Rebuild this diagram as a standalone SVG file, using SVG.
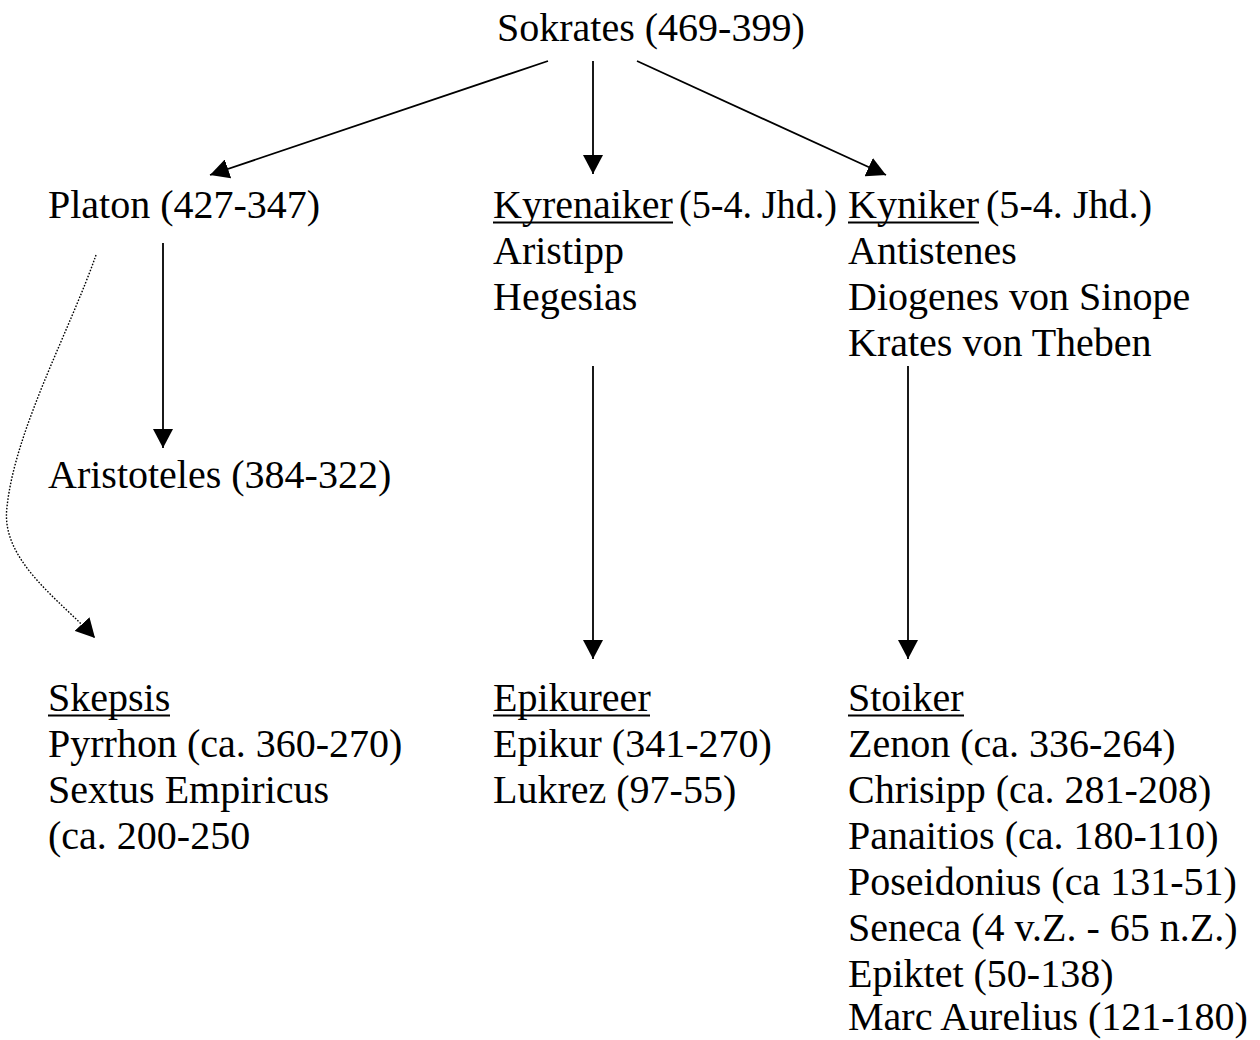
<svg xmlns="http://www.w3.org/2000/svg" width="1260" height="1040" viewBox="0 0 1260 1040">
<style>
text{font-family:"Liberation Serif","Times New Roman",serif;font-size:40px;fill:#000}
.ul{stroke:#000;stroke-width:2}
.c{fill:none;stroke:#000;stroke-width:1.8}
.d{fill:none;stroke:#000;stroke-width:1.4;stroke-dasharray:1.6 1.6}
</style>
<defs>
<marker id="ah" viewBox="0 0 19 20" refX="19" refY="10" markerWidth="19" markerHeight="20" markerUnits="userSpaceOnUse" orient="auto">
<path d="M0,0 L19,10 L0,20 z" fill="#000"/>
</marker>
</defs>
<rect width="1260" height="1040" fill="#fff"/>
<g id="connectors">
<line class="c" x1="548" y1="61" x2="210" y2="175" marker-end="url(#ah)"/>
<line class="c" x1="593" y1="61" x2="593" y2="174" marker-end="url(#ah)"/>
<line class="c" x1="637" y1="61" x2="886" y2="175" marker-end="url(#ah)"/>
<line class="c" x1="163" y1="243" x2="163" y2="448" marker-end="url(#ah)"/>
<line class="c" x1="593" y1="366" x2="593" y2="659" marker-end="url(#ah)"/>
<line class="c" x1="908" y1="366" x2="908" y2="659" marker-end="url(#ah)"/>
<path class="d" d="M96,255 C70,330 15,430 7,507 C0,560 60,600 95,638" marker-end="url(#ah)"/>
</g>
<g id="sokrates"><text x="497" y="41">Sokrates (469-399)</text></g>
<g id="platon"><text x="48" y="218">Platon (427-347)</text></g>
<g id="kyrenaiker">
<text x="493" y="218">Kyrenaiker</text>
<text x="679" y="218" textLength="158" lengthAdjust="spacingAndGlyphs">(5-4. Jhd.)</text>
<line class="ul" x1="493" y1="222.5" x2="673" y2="222.5"/>
<text x="493" y="264">Aristipp</text>
<text x="493" y="310">Hegesias</text>
</g>
<g id="kyniker">
<text x="848" y="218">Kyniker</text>
<text x="986" y="218" textLength="166" lengthAdjust="spacingAndGlyphs">(5-4. Jhd.)</text>
<line class="ul" x1="848" y1="222.5" x2="979" y2="222.5"/>
<text x="848" y="264">Antistenes</text>
<text x="848" y="310">Diogenes von Sinope</text>
<text x="848" y="356">Krates von Theben</text>
</g>
<g id="aristoteles"><text x="48" y="488">Aristoteles (384-322)</text></g>
<g id="skepsis">
<text x="48" y="711">Skepsis</text>
<line class="ul" x1="48" y1="715.5" x2="170" y2="715.5"/>
<text x="48" y="757">Pyrrhon (ca. 360-270)</text>
<text x="48" y="803">Sextus Empiricus</text>
<text x="48" y="849">(ca. 200-250</text>
</g>
<g id="epikureer">
<text x="493" y="711">Epikureer</text>
<line class="ul" x1="493" y1="715.5" x2="650" y2="715.5"/>
<text x="493" y="757">Epikur (341-270)</text>
<text x="493" y="803">Lukrez (97-55)</text>
</g>
<g id="stoiker">
<text x="848" y="711">Stoiker</text>
<line class="ul" x1="848" y1="715.5" x2="964" y2="715.5"/>
<text x="848" y="757">Zenon (ca. 336-264)</text>
<text x="848" y="803">Chrisipp (ca. 281-208)</text>
<text x="848" y="849">Panaitios (ca. 180-110)</text>
<text x="848" y="895">Poseidonius (ca 131-51)</text>
<text x="848" y="941">Seneca (4 v.Z. - 65 n.Z.)</text>
<text x="848" y="987">Epiktet (50-138)</text>
<text x="848" y="1030">Marc Aurelius (121-180)</text>
</g>
</svg>
